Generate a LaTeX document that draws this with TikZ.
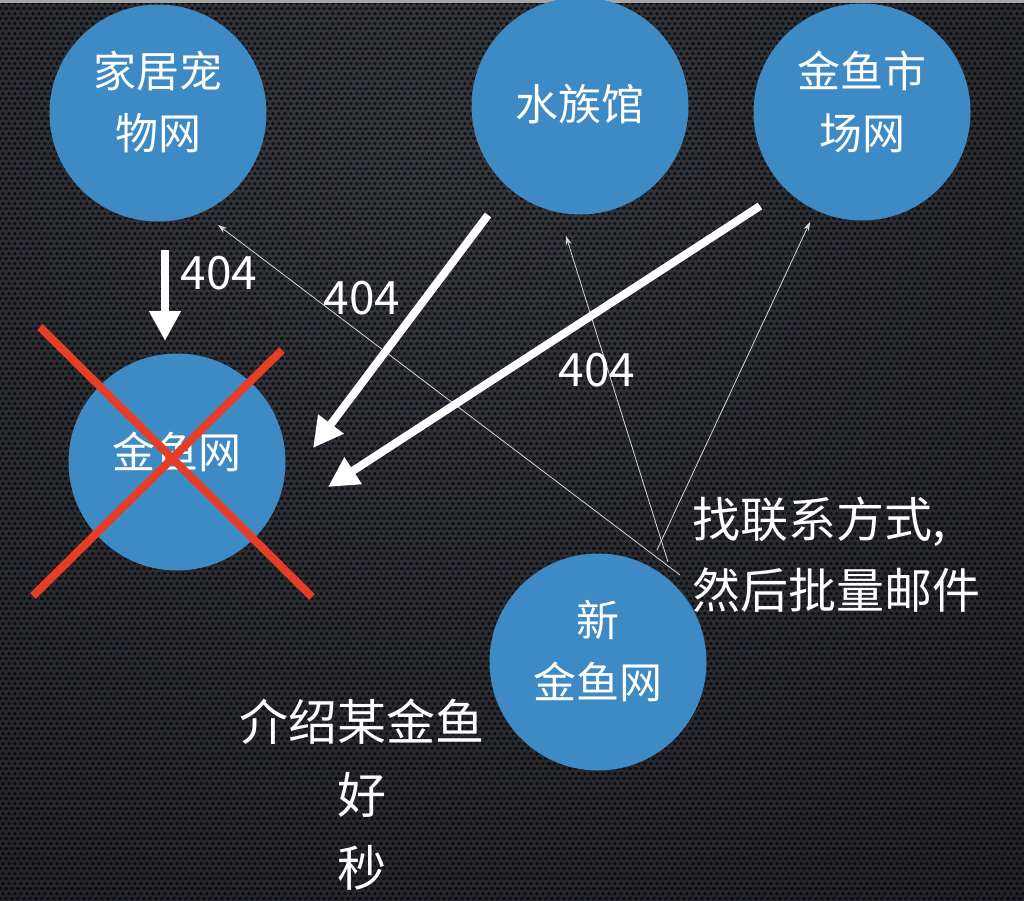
\documentclass[tikz,border=0pt]{standalone}
\usepackage{fontspec}
\setmainfont{Noto Sans CJK SC}
\usetikzlibrary{arrows.meta,patterns.meta}
\definecolor{circblue}{RGB}{62,138,196}
\definecolor{bgin}{RGB}{54,56,62}
\definecolor{bgmid}{RGB}{34,34,40}
\definecolor{bgout}{RGB}{14,10,12}
\definecolor{xred}{RGB}{230,62,38}
\definecolor{thinline}{RGB}{215,215,215}
\pgfdeclareradialshading{spot}{\pgfpoint{0bp}{0bp}}{color(0bp)=(bgin); color(20bp)=(bgmid); color(42bp)=(bgout); color(50bp)=(bgout)}
\tikzdeclarepattern{
  name=holes, type=uncolored,
  bottom left={(0pt,0pt)}, top right={(6pt,10.392pt)},
  tile size={(6pt,10.392pt)},
  code={
    \fill (1.5pt,2.598pt) circle (2pt);
    \fill (7.5pt,2.598pt) circle (2pt);
    \fill (4.5pt,7.794pt) circle (2pt);
    \fill (-1.5pt,7.794pt) circle (2pt);
  }
}
\tikzset{
  site/.style={circle, fill=circblue, minimum size=217pt, inner sep=0pt},
  circtext/.style={text=white, align=center, inner sep=0pt, font=\fontsize{43}{62}\selectfont},
  codetext/.style={text=white, inner sep=0pt, font=\fontsize{46}{52}\selectfont},
  bigtext/.style={text=white, inner sep=0pt, font=\fontsize{48}{71}\selectfont},
  bottomtext/.style={text=white, inner sep=0pt, font=\fontsize{49}{73}\selectfont},
  thickarrow/.style={draw=white, line width=8pt, -{Triangle[length=30pt,width=30pt]}},
  thinarrow/.style={draw=thinline, line width=0.8pt, -{Stealth[length=9pt,width=6pt]}},
  cross/.style={draw=xred, line width=8pt}
}
\begin{document}
\begin{tikzpicture}[x=1pt,y=-1pt]
\useasboundingbox (0,0) rectangle (1024,900);
% background
\begin{scope}
  \clip (0,0) rectangle (1024,900);
  \fill[bgout] (0,0) rectangle (1024,900);
  \shade[shading=spot] (430,150) circle (1150pt);
  \fill[pattern=holes, pattern color=black, fill opacity=0.7] (0,0) rectangle (1024,900);
  \fill[gray!70] (0,0) rectangle (1024,2.5);
\end{scope}
% circles
\node[site] (jujia) at (158,113) {};
\node[site] (shuizu) at (580,106) {};
\node[site] (shichang) at (862,112) {};
\node[site] (jinyu) at (177,462) {};
\node[site] (xin) at (598,662) {};
\node[circtext] (jujiat) at (158,102) {家居宠\\物网};
\node[circtext] (shuizut) at (580,104) {水族馆};
\node[circtext] (shichangt) at (862,102) {金鱼市\\场网};
\node[circtext] (jinyut) at (177,452) {金鱼网};
\node[circtext] (xint) at (598,651) {新\\金鱼网};
% thin arrows from new site
\coordinate (s1) at (680,575);
\coordinate (s2) at (668,562);
\coordinate (s3) at (657,550);
\coordinate (t1) at (218,225);
\coordinate (t2) at (566,236);
\coordinate (t3) at (810,222);
\draw[thinarrow] (s1) -- (t1);
\draw[thinarrow] (s2) -- (t2);
\draw[thinarrow] (s3) -- (t3);
% thick arrows
\coordinate (a1s) at (165,250);
\coordinate (a1e) at (165,341);
\coordinate (a2s) at (488,215);
\coordinate (a2e) at (313,448);
\coordinate (a3s) at (760,206);
\coordinate (a3e) at (328,487);
\draw[thickarrow] (a1s) -- (a1e);
\draw[thickarrow] (a2s) -- (a2e);
\draw[thickarrow] (a3s) -- (a3e);
% red cross
\coordinate (c1a) at (40,327);
\coordinate (c1b) at (312,597);
\coordinate (c2a) at (282,350);
\coordinate (c2b) at (33,596);
\draw[cross] (c1a) -- (c1b);
\draw[cross] (c2a) -- (c2b);
% labels
\node[codetext] (l1) at (219,273) {404};
\node[codetext] (l2) at (362,298) {404};
\node[codetext] (l3) at (597,370) {404};
\node[bigtext, anchor=west, align=left] (contact) at (692,555) {找联系方式,\\然后批量邮件};
\node[bottomtext, align=center] (intro) at (362,795) {介绍某金鱼\\好\\秒};
\end{tikzpicture}
\end{document}
